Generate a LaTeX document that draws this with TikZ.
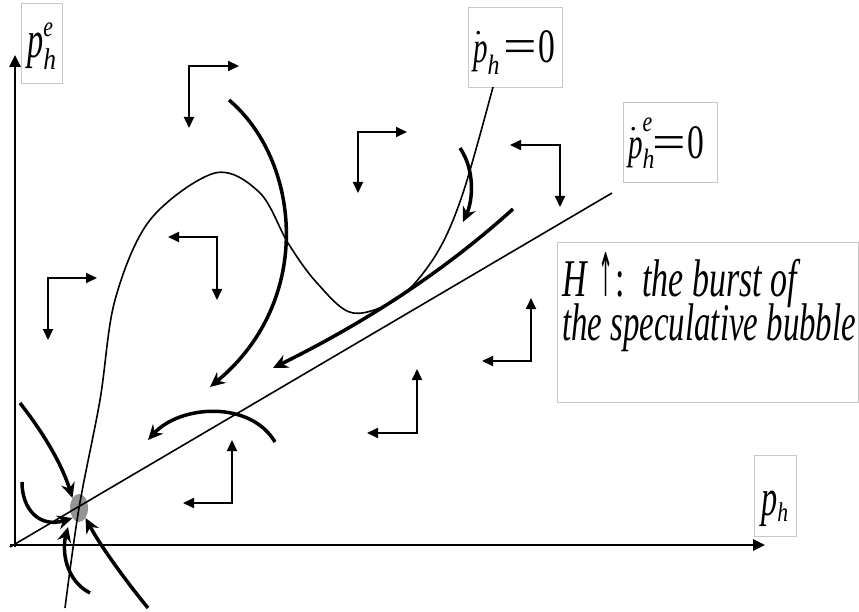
\documentclass[tikz,border=0pt]{standalone}
\usepackage{fontspec}
\setmainfont{Liberation Serif}
\newfontfamily\djv{DejaVu Sans}
\usepackage{graphicx}
\usetikzlibrary{arrows.meta,shapes.geometric}
\newcommand\sqz[2][0.64]{\scalebox{#1}[1]{#2}}
\newcommand\dotp{\rlap{\hspace{1.5pt}\raisebox{28pt}{\fontsize{30}{30}\selectfont .}}\sqz[0.66]{\fontsize{44}{44}\selectfont\itshape p}}
\begin{document}
\begin{tikzpicture}[x=1pt,y=-1pt,
  lbl/.style={draw=black!22, line width=0.9pt, inner sep=0pt, anchor=north west},
  txt/.style={inner sep=0pt, anchor=base west},
  corner/.style={line width=2pt, {Triangle[length=11pt,width=10pt]}-{Triangle[length=11pt,width=10pt]}},
  traj/.style={line width=3.5pt, -{Stealth[length=15pt,width=14pt,inset=5pt]}},
  thinc/.style={line width=1.6pt},
  axis/.style={line width=2.5pt, -{Triangle[length=12pt,width=11pt]}}]
\useasboundingbox (0,0) rectangle (859,612);

% equilibrium
\node[ellipse, fill=black!42, minimum width=18pt, minimum height=28pt, inner sep=0pt] (eq) at (79,508) {};

% axes
\coordinate (O) at (15,545);
\coordinate (xend) at (765,545);
\coordinate (yend) at (15,55);
\draw[axis] (10,545) -- (xend);
\draw[axis] (15,547) -- (yend);

% axis labels
\node[lbl, minimum width=41pt, minimum height=80pt] (pheb) at (21,3) {};
\node[txt] (phe) at (27,58) {\sqz[0.62]{\fontsize{52}{52}\selectfont\itshape p}\rlap{\raisebox{21pt}{\sqz[0.75]{\fontsize{29}{29}\selectfont\itshape e}}}\raisebox{-12pt}{\sqz[0.85]{\fontsize{30}{30}\selectfont\itshape h}}};

\node[lbl, minimum width=42pt, minimum height=81pt] (phb) at (754,455) {};
\node[txt] (ph) at (761,515) {\sqz[0.62]{\fontsize{52}{52}\selectfont\itshape p}\raisebox{-6pt}{\sqz[0.8]{\fontsize{27}{27}\selectfont\itshape h}}};

% nullcline labels
\node[lbl, minimum width=94pt, minimum height=80pt] (pdb) at (468,7) {};
\node[txt] (pdL) at (473,63) {\dotp\raisebox{-12pt}{\sqz[0.85]{\fontsize{28}{28}\selectfont\itshape h}}};
\node[txt] (pdR) at (503,63) {\fontsize{48}{48}\selectfont\scalebox{1.24}[1]{=}\hspace{2pt}\sqz[0.7]{0}};

\node[lbl, minimum width=94pt, minimum height=80pt] (pdeb) at (623,102) {};
\node[txt] (pdeL) at (628,159) {\dotp\rlap{\raisebox{27pt}{\sqz[0.75]{\fontsize{29}{29}\selectfont\itshape e}}}\raisebox{-10pt}{\sqz[0.85]{\fontsize{28}{28}\selectfont\itshape h}}};
\node[txt] (pdeR) at (652,159) {\fontsize{48}{48}\selectfont\scalebox{1.24}[1]{=}\hspace{2pt}\sqz[0.7]{0}};

% note
\node[lbl, minimum width=301pt, minimum height=160pt] (hb) at (557,242) {};
\node[txt] (hH) at (562,297) {\sqz[0.64]{\fontsize{53}{53}\selectfont\itshape H}};
\node[txt] (hA) at (598,297) {\sqz[0.3]{\fontsize{60}{60}\selectfont\djv ↑}};
\node[txt] (hC) at (615,297) {\sqz[0.64]{\fontsize{53}{53}\selectfont :}};
\node[txt] (h1) at (642,297) {\sqz[0.64]{\fontsize{53}{53}\selectfont\itshape the burst of}};
\node[txt] (h2) at (562,340) {\sqz[0.62]{\fontsize{53}{53}\selectfont\itshape the speculative bubble}};

% p_h^e dot = 0 line
\coordinate (dA) at (10,547);
\coordinate (dB) at (612,193);
\draw[thinc] (dA) -- (dB);

% p_h dot = 0 curve
\coordinate (fA) at (65,608);
\coordinate (fB) at (493,87);
\draw[thinc] plot[smooth, tension=0.55] coordinates {(fA) (79,508) (100,400) (115,300) (150,220) (215,173) (260,193) (288,243) (317,283) (353,313) (400,297) (437,253) (463,193) (fB)};

% direction corners
\draw[corner] (189,128) -- (189,66) -- (239,66);
\draw[corner] (358,193) -- (358,132) -- (407,132);
\draw[corner] (48,340) -- (48,278) -- (97,278);
\draw[corner] (168,237) -- (217,237) -- (217,300);
\draw[corner] (510,145) -- (560,145) -- (560,207);
\draw[corner] (482,361) -- (531,361) -- (531,298);
\draw[corner] (367,433) -- (417,433) -- (417,369);
\draw[corner] (183,503) -- (232,503) -- (232,440);

% trajectories
\draw[traj] (229,100) .. controls (300,160) and (315,300) .. (210,387);
\draw[traj] (513,209) .. controls (440,275) and (360,325) .. (273,368);
\draw[traj] (460,148) .. controls (475,170) and (473,200) .. (463,222);
\draw[traj] (275,442) .. controls (250,400) and (180,405) .. (148,440);
\draw[traj] (20,403) .. controls (45,435) and (62,465) .. (eq.north west);
\draw[traj] (22,482) .. controls (22,510) and (40,528) .. (eq.south west);
\draw[traj] (90,593) .. controls (65,580) and (62,550) .. (68,527);
\draw[traj] (148,608) .. controls (125,580) and (100,545) .. (eq.south east);
\end{tikzpicture}
\end{document}
